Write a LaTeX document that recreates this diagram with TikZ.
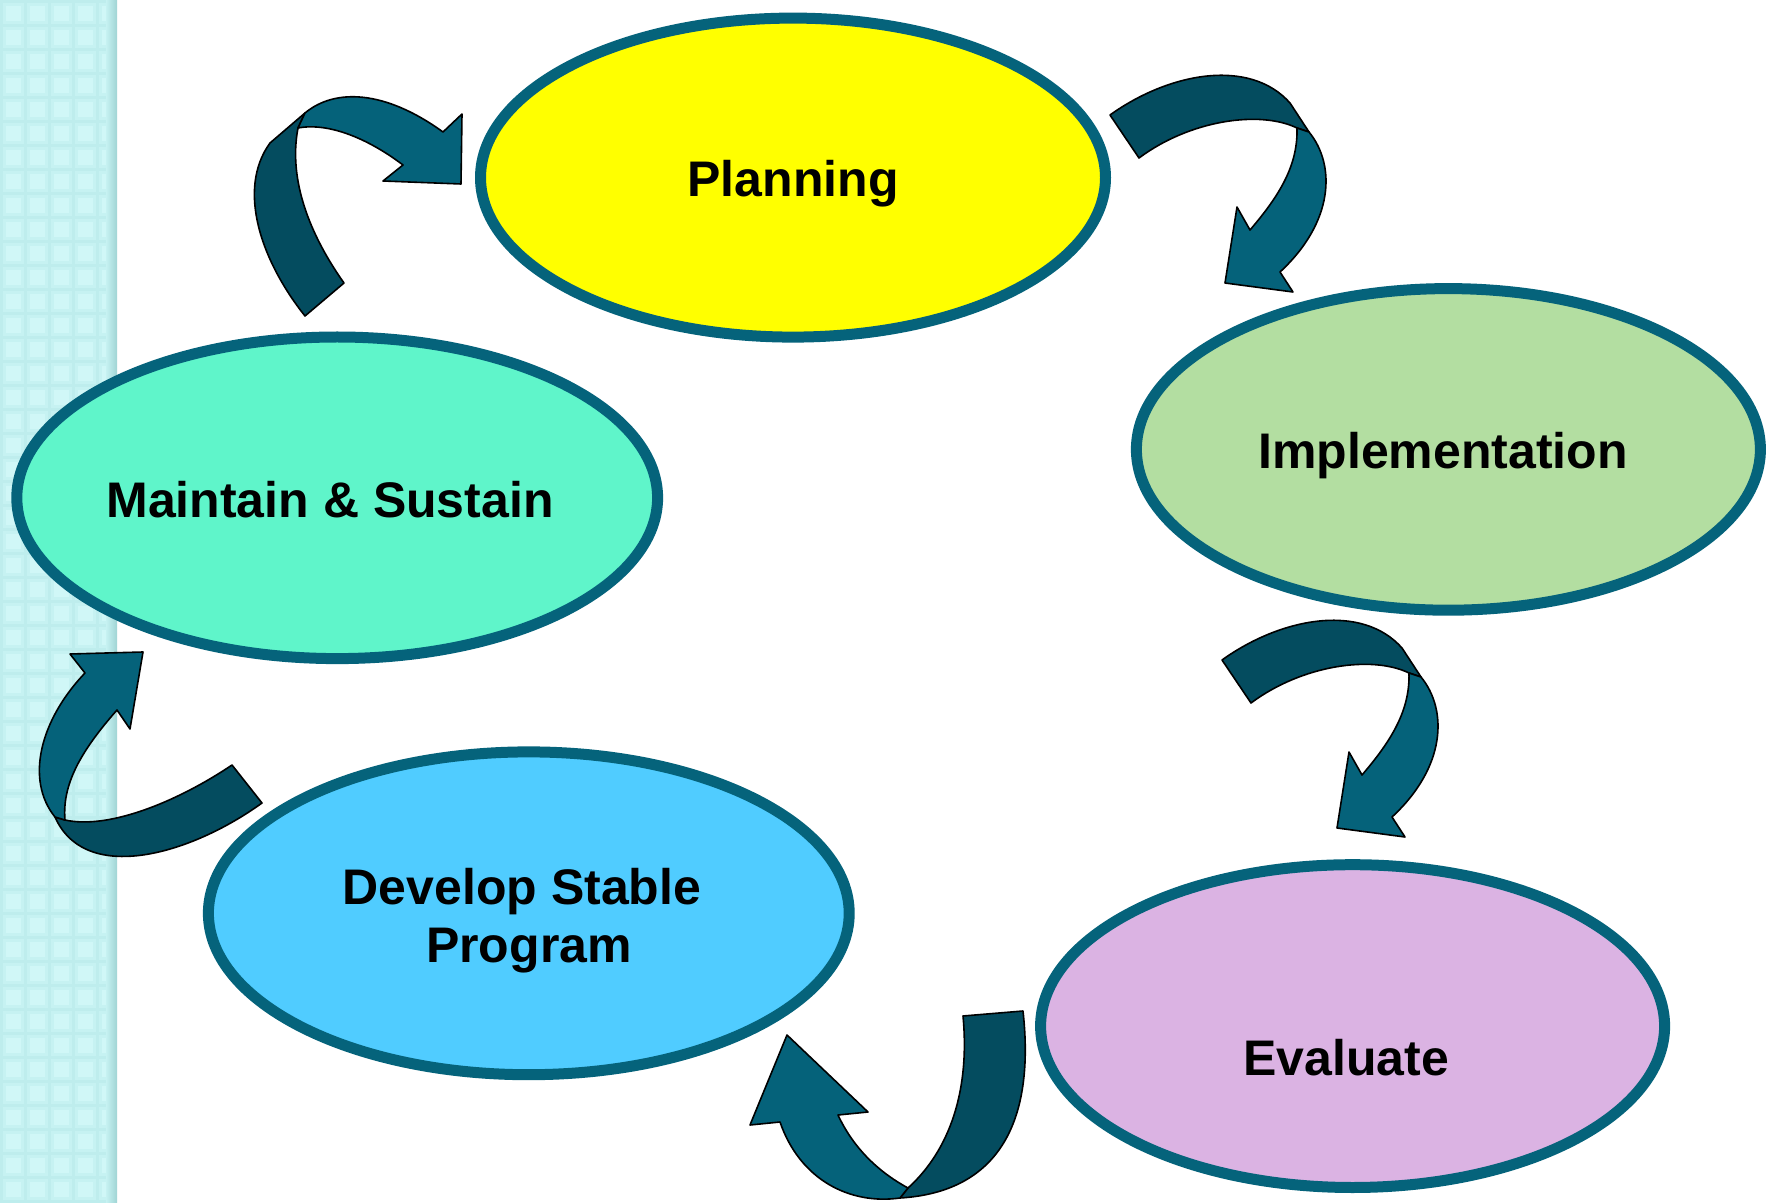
\documentclass[tikz,border=0pt]{standalone}
\usepackage{fontspec}
\setmainfont{Liberation Sans}
\usetikzlibrary{shapes.geometric}
\definecolor{bandbase}{HTML}{C6F2F2}
\definecolor{bandlight}{HTML}{D0F7F7}
\definecolor{bandline}{HTML}{BEEDED}
\definecolor{bandshadow}{HTML}{A0D4D4}
\definecolor{planfill}{HTML}{FFFF00}
\definecolor{implfill}{HTML}{B3DEA1}
\definecolor{maintfill}{HTML}{5FF5CA}
\definecolor{devfill}{HTML}{50CCFF}
\definecolor{evalfill}{HTML}{DBB3E3}
\definecolor{stageborder}{HTML}{05637B}
\definecolor{arrdark}{HTML}{044C5F}
\definecolor{arrlight}{HTML}{05627A}
\begin{document}
\begin{tikzpicture}[x=0.5pt,y=-0.5pt,
  stage/.style={ellipse,draw=stageborder,line width=5.5pt,inner sep=0pt},
  stagetext/.style={anchor=base,inner sep=0pt,font=\fontsize{25}{30}\selectfont\bfseries},
  banddark/.style={fill=arrdark,draw=black,line width=0.8pt,line join=round},
  bandlite/.style={fill=arrlight,draw=black,line width=0.8pt,line join=round}]
\useasboundingbox (0,0) rectangle (1768,1203);
\fill[white] (0,0) rectangle (1768,1203);
% left patterned band
\fill[bandbase] (0,0) rectangle (117,1203);
\foreach \j in {0,...,50}{
  \fill[bandline] (0,\j*24) rectangle (117,\j*24+3);
  \foreach \i in {0,...,4}{
    \fill[bandlight] (\i*24+6,\j*24+6) rectangle (\i*24+21,\j*24+21);
  }
}
\foreach \i in {0,...,4}{
  \fill[bandline] (\i*24,0) rectangle (\i*24+3,1203);
}
\shade[left color=bandbase,right color=bandshadow] (106,0) rectangle (117,1203);

% stages
\node[stage,fill=planfill,minimum width=312.5pt,minimum height=159.5pt] (plan) at (793,177.6) {};
\node[stage,fill=implfill,minimum width=312pt,minimum height=160.8pt] (impl) at (1448.4,449.4) {};
\node[stage,fill=maintfill,minimum width=320.4pt,minimum height=160.8pt] (maint) at (337.2,497.8) {};
\node[stage,fill=devfill,minimum width=320.4pt,minimum height=161.4pt] (dev) at (528.8,913.3) {};
\node[stage,fill=evalfill,minimum width=312pt,minimum height=161.4pt] (eval) at (1352.6,1026.1) {};

\node[stagetext] (planlbl) at (793,197) {Planning};
\node[stagetext] (impllbl) at (1443,469) {Implementation};
\node[stagetext] (maintlbl) at (330,518) {Maintain \& Sustain};
\node[stagetext] (devlblA) at (522,904) {Develop Stable};
\node[stagetext] (devlblB) at (529,962) {Program};
\node[stagetext] (evallbl) at (1346,1075) {Evaluate};

% arrow 1 : Maintain -> Planning
\draw[banddark] (305,316) .. controls (262,262) and (236,190) .. (270,143) -- (305,113)
  -- (298,128) .. controls (288,180) and (310,235) .. (344,283) -- cycle;
\draw[bandlite] (305,113) .. controls (335,88) and (385,90) .. (443,132)
  -- (462,114) -- (461,184) -- (383,181) -- (403,165)
  .. controls (370,140) and (330,122) .. (298,128) -- cycle;

% arrow 2 : Planning -> Implementation (and arrow 3, same shape shifted)
\foreach \sx/\sy in {0/0,112/545}{
\begin{scope}[shift={(\sx,\sy)}]
\draw[banddark] (1110,115) .. controls (1170,72) and (1250,58) .. (1290,103) -- (1309,132)
  -- (1297,128) .. controls (1260,110) and (1190,120) .. (1139,158) -- cycle;
\draw[bandlite] (1309,132) .. controls (1336,165) and (1334,222) .. (1280,272)
  -- (1293,292) -- (1225,283) -- (1237,207) -- (1250,230)
  .. controls (1280,195) and (1298,165) .. (1297,128) -- cycle;
\end{scope}
}

% arrow 4 : Evaluate -> Develop
\draw[banddark] (963,1016) -- (1023,1011) .. controls (1035,1120) and (1000,1192) .. (900,1198)
  -- (908,1188) .. controls (950,1150) and (970,1090) .. (963,1016) -- cycle;
\draw[bandlite] (900,1198) .. controls (850,1205) and (800,1180) .. (780,1122)
  -- (750,1125) -- (787,1035) -- (868,1112) -- (838,1115)
  .. controls (852,1145) and (875,1170) .. (908,1188) -- cycle;

% arrow 5 : Develop -> Maintain
\draw[banddark] (232,765) -- (262,803) .. controls (190,855) and (85,885) .. (55,817)
  -- (65,820) .. controls (110,830) and (180,800) .. (232,765) -- cycle;
\draw[bandlite] (55,817) .. controls (25,780) and (40,720) .. (85,673)
  -- (70,654) -- (143,652) -- (130,729) -- (117,710)
  .. controls (80,752) and (62,785) .. (65,820) -- cycle;
\end{tikzpicture}
\end{document}
